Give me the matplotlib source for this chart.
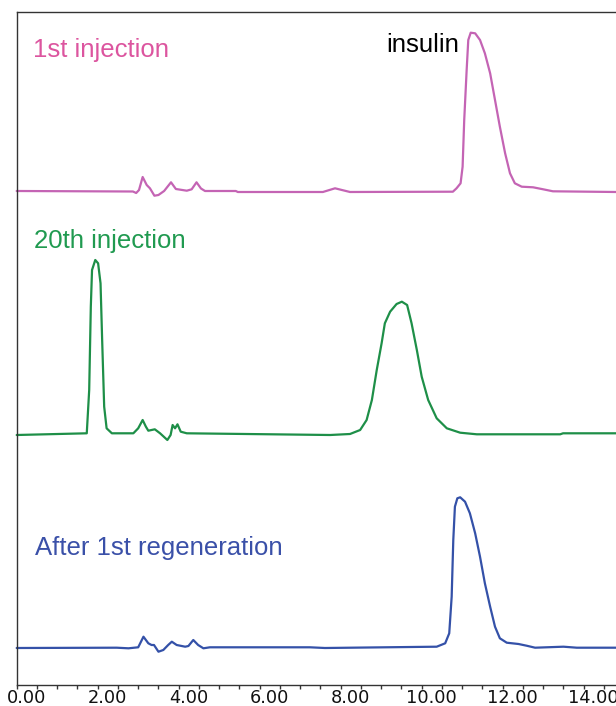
import matplotlib
matplotlib.use("Agg")
import matplotlib.pyplot as plt
from matplotlib.ticker import MultipleLocator, FormatStrFormatter
from matplotlib.transforms import ScaledTranslation

# ---- data (time in min, signal above each trace's baseline, arbitrary units) ----
t_first = [0.00, 2.87, 2.95, 3.02, 3.11, 3.21, 3.29, 3.40, 3.50, 3.64, 3.81, 3.93, 4.20,
           4.32, 4.44, 4.55, 4.65, 5.41, 5.46, 7.56, 7.86, 8.23, 10.77, 10.86, 10.96,
           11.01, 11.05, 11.11, 11.15, 11.21, 11.32, 11.44, 11.56, 11.69, 11.81, 11.93,
           12.06, 12.18, 12.30, 12.47, 12.75, 13.00, 13.24, 14.80]
s_first = [0.5, 0.0, -1.5, 1.5, 14.5, 6.5, 3.2, -4.2, -3.5, 0.5, 9.2, 2.5, 0.8,
           2.2, 9.2, 3.0, 0.5, 0.5, -0.5, -0.5, 3.2, -0.5, -0.2, 3.2, 8.2,
           24.8, 71.5, 121.5, 151.5, 158.8, 158.2, 151.5, 138.2, 118.2, 91.5, 64.8,
           38.2, 18.2, 8.2, 4.8, 4.2, 2.2, 0.2, -0.5]

t_twentieth = [0.00, 1.73, 1.79, 1.83, 1.86, 1.94, 2.01, 2.07, 2.11, 2.16, 2.22, 2.35,
               2.88, 3.00, 3.11, 3.19, 3.25, 3.41, 3.54, 3.72, 3.80, 3.85, 3.91, 3.97,
               4.05, 4.20, 7.74, 8.23, 8.48, 8.64, 8.77, 8.89, 9.01, 9.09, 9.22, 9.38,
               9.51, 9.64, 9.75, 9.88, 10.00, 10.16, 10.37, 10.62, 10.95, 11.36, 13.42,
               13.49, 14.80]
s_twentieth = [0.0, 1.7, 45.0, 128.3, 165.0, 175.0, 171.7, 151.7, 95.0, 28.3, 6.7, 1.7,
               1.7, 6.7, 15.0, 8.3, 4.3, 5.7, 1.7, -5.0, 0.0, 10.0, 6.7, 10.7,
               3.3, 1.7, 0.0, 1.0, 5.0, 15.0, 35.0, 65.0, 91.7, 111.7, 123.3, 131.0,
               133.3, 130.0, 111.7, 85.0, 58.3, 35.0, 16.7, 6.7, 2.3, 0.7, 0.7,
               1.7, 1.7]

t_regen = [0.00, 2.47, 2.76, 3.00, 3.13, 3.25, 3.33, 3.39, 3.50, 3.62, 3.74, 3.83, 3.95,
           4.16, 4.24, 4.36, 4.48, 4.61, 4.77, 7.24, 7.61, 10.37, 10.58, 10.68, 10.74,
           10.78, 10.82, 10.88, 10.95, 11.07, 11.19, 11.32, 11.44, 11.56, 11.69, 11.81,
           11.93, 12.10, 12.39, 12.59, 12.80, 13.50, 13.83, 14.80]
s_regen = [0.0, 0.3, -0.3, 0.7, 11.3, 4.7, 3.0, 3.0, -3.7, -2.0, 3.0, 6.3, 3.0,
           1.3, 2.0, 8.0, 3.0, -0.3, 0.7, 0.7, 0.0, 1.3, 4.7, 14.7, 51.3,
           108.0, 141.3, 149.7, 150.7, 146.3, 134.7, 114.7, 91.3, 64.7, 41.3, 21.3,
           9.7, 5.3, 4.0, 2.3, 0.3, 1.3, 0.3, 0.3]

trace_labels = ["1st injection", "20th injection", "After 1st regeneration"]
peak_label = "insulin"
x_major = 2.0
x_minor = 0.5

# ---- layout / style ----
W, H, DPI = 616, 706, 100
fig = plt.figure(figsize=(W / DPI, H / DPI), dpi=DPI)
left_px, top_px, bottom_px = 16.7, 12.0, 684.5
ax = fig.add_axes([left_px / W, 1 - bottom_px / H, 1 - left_px / W, (bottom_px - top_px) / H])
ax.set_xlim(0, (W - left_px) / 40.5)
ax.set_ylim(0, bottom_px - top_px)

offsets = [493.0, 249.5, 36.5]
line_colors = ["#c464b4", "#1e8f48", "#3451a8"]
text_colors = ["#dc559f", "#209a50", "#3a50a8"]

for t, s, off, c in zip([t_first, t_twentieth, t_regen],
                        [s_first, s_twentieth, s_regen], offsets, line_colors):
    ax.plot(t, [v + off for v in s], color=c, lw=1.6, solid_joinstyle="round",
            solid_capstyle="round", clip_on=False)

lab_font = dict(family=["Liberation Sans", "DejaVu Sans"], fontsize=18.5)
ax.text(0.40, 627.5, trace_labels[0], color=text_colors[0], va="baseline", **lab_font)
ax.text(0.43, 436.5, trace_labels[1], color=text_colors[1], va="baseline", **lab_font)
ax.text(0.45, 129.5, trace_labels[2], color=text_colors[2], va="baseline", **lab_font)
ax.text(9.12, 632.5, peak_label, color="black", va="baseline", **lab_font)

for side in ["left", "top", "bottom"]:
    ax.spines[side].set_color("#333333")
    ax.spines[side].set_linewidth(1.0)
ax.spines["right"].set_visible(False)

ax.set_yticks([])
ax.xaxis.set_major_locator(MultipleLocator(x_major))
ax.xaxis.set_minor_locator(MultipleLocator(x_minor))
ax.xaxis.set_major_formatter(FormatStrFormatter("%.2f"))
ax.tick_params(axis="x", which="both", direction="out", length=3.0, width=1.0,
               color="#333333", pad=0.3, labelsize=12.8)
ax.tick_params(axis="x", which="minor", length=3.0)

shift = ScaledTranslation(10 / DPI, 0, fig.dpi_scale_trans)
for lbl in ax.get_xticklabels():
    lbl.set_transform(lbl.get_transform() + shift)
    lbl.set_color("#111111")

fig.savefig("out.png", dpi=DPI)
